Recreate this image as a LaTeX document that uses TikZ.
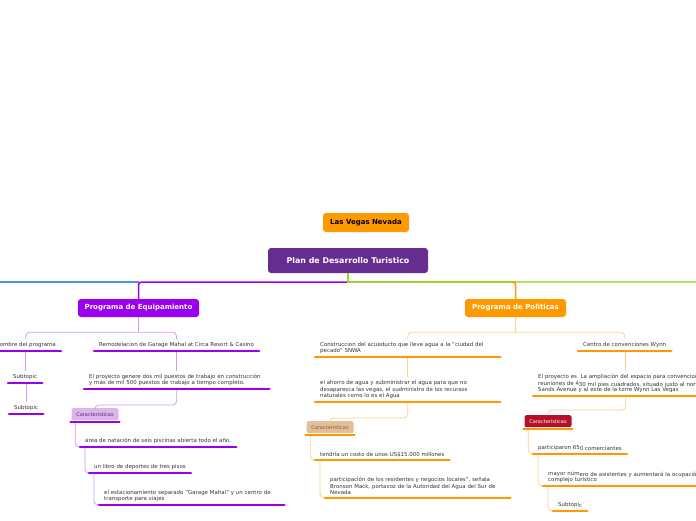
\documentclass[tikz,border=0pt]{standalone}
\usepackage{fontspec}
\setmainfont{DejaVu Sans}
\usetikzlibrary{positioning}

\definecolor{mainpurple}{RGB}{102,45,145}
\definecolor{lvorange}{RGB}{255,153,0}
\definecolor{eqviolet}{RGB}{153,0,240}
\definecolor{eqlight}{RGB}{208,156,248}
\definecolor{polorange}{RGB}{255,153,0}
\definecolor{pollight}{RGB}{255,205,140}
\definecolor{brblue}{RGB}{74,144,240}
\definecolor{brlime}{RGB}{160,210,40}
\definecolor{brgreen}{RGB}{170,232,100}
\definecolor{carlila}{RGB}{220,182,232}
\definecolor{cartan}{RGB}{228,190,155}
\definecolor{carred}{RGB}{180,16,42}
\definecolor{leaftext}{RGB}{51,51,51}

\begin{document}
\begin{tikzpicture}[x=1pt, y=-1pt,
    topic/.style={rounded corners=3pt, text=white, inner sep=0pt,
        font=\fontsize{7}{8}\selectfont\bfseries},
    leaf/.style={anchor=south west, inner xsep=5pt, inner ysep=3pt, align=left,
        text=leaftext, font=\fontsize{5.45}{6.5}\selectfont},
    leafe/.style={leaf, anchor=south east},
    carbox/.style={anchor=north, rounded corners=2pt, minimum width=47pt,
        minimum height=12pt, inner sep=0pt, font=\fontsize{5}{5}\selectfont},
    uline/.style={line width=2.6pt, line cap=round},
    brline/.style={line width=1.5pt},
    lconn/.style={eqlight, line width=0.8pt, rounded corners=4pt},
    rconn/.style={pollight, line width=0.8pt, rounded corners=4pt}]
    \useasboundingbox (0,0) rectangle (696,520);
    \clip (0,0) rectangle (696,520);

    % main topics
    \node[topic, fill=lvorange, text=black, minimum width=86pt, minimum height=19pt]
        (lvn) at (366,222.5) {Las Vegas Nevada};
    \node[topic, fill=mainpurple, font=\fontsize{7.9}{9}\selectfont\bfseries,
        minimum width=160pt, minimum height=25pt]
        (plan) at (348,260.5) {Plan de Desarrollo Turistico};
    \node[topic, fill=eqviolet, minimum width=121pt, minimum height=18pt]
        (equip) at (138.5,308) {Programa de Equipamiento};
    \node[topic, fill=polorange, minimum width=101pt, minimum height=18pt]
        (polit) at (515.5,308) {Programa de Politicas};

    \coordinate (hub) at (348,282);
    \coordinate (offL) at (0,282);
    \coordinate (offR) at (696,282);
    \draw[brline, brblue] (offL) -- (hub -| equip.north);
    \draw[brline, eqviolet, rounded corners=3pt] (hub) -| (equip.north);
    \draw[brline, brgreen] (hub -| polit.north) -- (offR);
    \draw[brline, brlime] (plan.south) -- (hub) -- (hub -| polit.north);
    \draw[brline, polorange, rounded corners=3pt] ([xshift=-4pt]hub -| polit.north) -| (polit.north);

    % Programa de Equipamiento
    \node[leafe] (nombre) at (61,351) {Nombre del programa};
    \node[leaf] (remod) at (94,351) {Remodelacion de Garage Mahal at Circa Resort \& Casino};
    \node[leaf] (subA) at (8,383) {Subtopic};
    \node[leaf] (subB) at (9,414) {Subtopic};
    \node[leaf, text width=175pt] (proy) at (84,389)
        {El proyecto genere dos mil puestos de trabajo en construcción\\
         y más de mil 500 puestos de trabajo a tiempo completo.};
    \node[carbox, fill=carlila, text=mainpurple!80!black] (carA) at (95,408) {Caracteristicas};
    \node[leaf] (area) at (80,447) {área de natación de seis piscinas abierta todo el año,};
    \node[leaf] (libro) at (89,473) {un libro de deportes de tres pisos};
    \node[leaf, text width=175pt] (estac) at (99,505)
        {el estacionamiento separado "Garage Mahal" y un centro de\\
         transporte para viajes};

    \draw[lconn] (equip.south) -- ++(0,15) coordinate (lsplit);
    \draw[lconn] (lsplit) -| (nombre.north);
    \draw[lconn] (lsplit) -| (remod.north);
    \draw[lconn] (subA.north |- nombre.south) -- (subA.north);
    \draw[lconn] (subB.north |- subA.south) -- (subB.north);
    \draw[lconn] (proy.north |- remod.south) -- (proy.north);
    \draw[lconn] (proy.south) -- ++(0,16) -| (carA.north);
    \draw[lconn] ([xshift=4pt]carA.south west) |- (area.south west);
    \draw[lconn] ([xshift=5pt]area.south west) |- (libro.south west);
    \draw[lconn] ([xshift=5pt]libro.south west) |- (estac.south west);

    % Programa de Politicas
    \node[leaf, text width=175pt] (acued) at (315,357)
        {Construccion del acueducto que lleve agua a la "ciudad del\\
         pecado" SNWA};
    \node[leaf, text width=175pt] (ahorro) at (315,402)
        {el ahorro de agua y subministrar el agua para que no\\
         desaparesca las vegas, el sudministro de los recursos\\
         naturales como lo es el Agua};
    \node[carbox, fill=cartan, text=brown!70!black] (carB) at (330,421) {Caracteristicas};
    \node[leaf] (costo) at (315,460) {tendría un costo de unos US\$15.000 millones};
    \node[leaf, text width=175pt] (partic) at (325,498)
        {participación de los residentes y negocios locales", señala\\
         Bronson Mack, portavoz de la Autoridad del Agua del Sur de\\
         Nevada};
    \node[leaf] (wynn) at (578,351) {Centro de convenciones Wynn};
    \node[leaf, text width=175pt] (ampl) at (533,396)
        {\mbox{El proyecto es~ La ampliación del espacio para convenciones y}\\
         \mbox{reuniones de 4\raisebox{-1pt}{30 mil pies cuadrados, situado justo al norte de}}\\
         Sands Avenue y al este de la torre Wynn Las Vegas};
    \node[carbox, fill=carred, text=white] (carC) at (548,415) {Caracteristicas};
    \node[leaf] (comer) at (533,454) {participaron 65\raisebox{-1pt}{0 comerciantes}};
    \node[leaf, text width=175pt] (mayor) at (543,486)
        {\mbox{mayor núm\raisebox{-1pt}{ero de asistentes y aumentará la ocupación del}}\\
         complejo turístico};
    \node[leaf] (subC) at (553,511) {Subtopi\raisebox{-1pt}{c}};

    \draw[rconn] (polit.south) -- ++(0,15) coordinate (rsplit);
    \draw[rconn] (rsplit) -| (acued.north);
    \draw[rconn] (rsplit) -| (wynn.north);
    \draw[rconn] (ahorro.north |- acued.south) -- (ahorro.north);
    \draw[rconn] (ahorro.south) -- ++(0,16) -| (carB.north);
    \draw[rconn] ([xshift=4pt]carB.south west) |- (costo.south west);
    \draw[rconn] ([xshift=5pt]costo.south west) |- (partic.south west);
    \draw[rconn] (ampl.north |- wynn.south) -- (ampl.north);
    \draw[rconn] (ampl.south) -- ++(0,14) -| (carC.north);
    \draw[rconn] ([xshift=4pt]carC.south west) |- (comer.south west);
    \draw[rconn] ([xshift=5pt]comer.south west) |- (mayor.south west);
    \draw[rconn] ([xshift=5pt]mayor.south west) |- (subC.south west);

    % underlines
    \foreach \n in {nombre,remod,subA,subB,proy,area,libro,estac}
        \draw[uline, eqviolet] (\n.south west) -- (\n.south east);
    \foreach \n in {acued,ahorro,costo,partic,wynn,ampl,comer,mayor,subC}
        \draw[uline, polorange] (\n.south west) -- (\n.south east);
    \foreach \n/\c in {carA/eqviolet,carB/polorange,carC/polorange}
        \draw[\c, line width=2pt, line cap=round]
            ([xshift=-1pt,yshift=-1.6pt]\n.south west) -- ([xshift=1pt,yshift=-1.6pt]\n.south east);
\end{tikzpicture}
\end{document}
